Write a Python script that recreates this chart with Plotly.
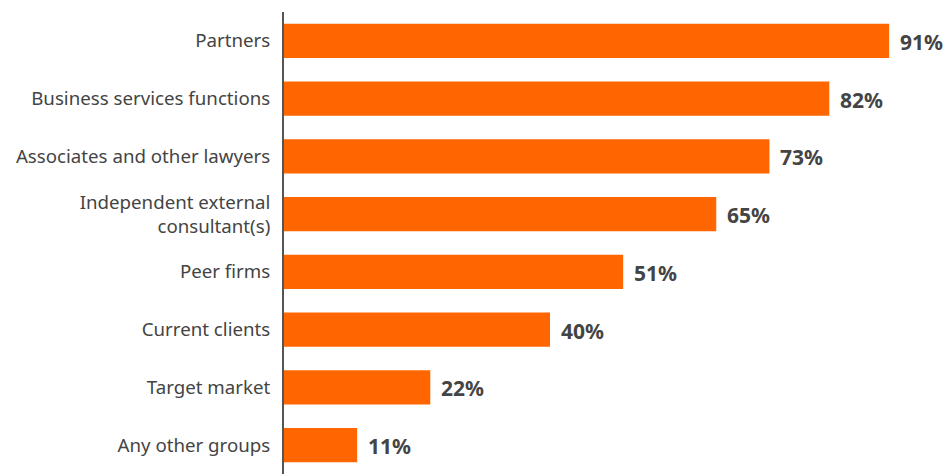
import plotly.graph_objects as go

categories = [
    "Partners",
    "Business services functions",
    "Associates and other lawyers",
    "Independent external<br>consultant(s)",
    "Peer firms",
    "Current clients",
    "Target market",
    "Any other groups",
]
values = [91, 82, 73, 65, 51, 40, 22, 11]
value_labels = [f"{v}%" for v in values]

BAR_COLOR = "#FF6600"
TEXT_COLOR = "#444444"

fig = go.Figure(
    go.Bar(
        x=values,
        y=categories,
        orientation="h",
        marker=dict(color=BAR_COLOR, line=dict(width=0)),
        width=0.59,
        hoverinfo="skip",
    )
)

for cat, v, lab in zip(categories, values, value_labels):
    fig.add_annotation(
        x=v, y=cat, text=f"<b>{lab}</b>", showarrow=False,
        xanchor="left", xshift=9, yshift=-1,
        font=dict(family="Noto Sans", size=21, color=TEXT_COLOR),
    )

fig.update_layout(
    width=952, height=474,
    margin=dict(l=284, r=3, t=12, b=0),
    plot_bgcolor="white", paper_bgcolor="white",
    showlegend=False,
    font=dict(family="Noto Sans", color=TEXT_COLOR),
)
fig.update_xaxes(range=[0, 100], visible=False, fixedrange=True)
fig.update_yaxes(
    autorange="reversed",
    showline=True, linecolor="#555555", linewidth=2,
    showgrid=False, zeroline=False,
    ticks="", ticklabelstandoff=8,
    tickfont=dict(family="Noto Sans", size=18.7, color=TEXT_COLOR),
)

fig.write_html("out.html")
